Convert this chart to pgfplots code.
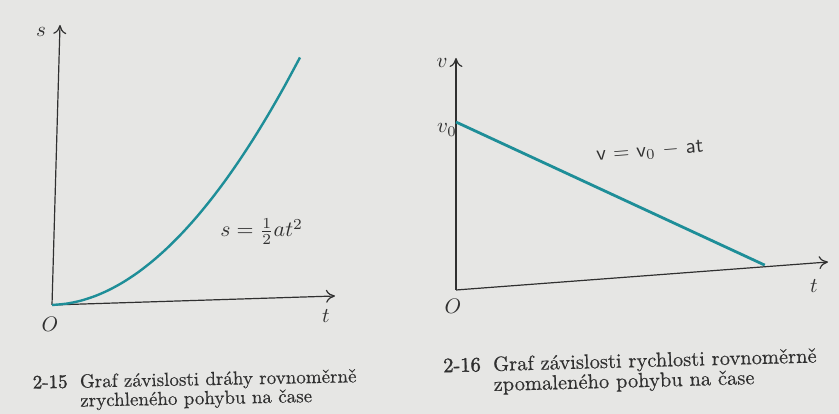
\documentclass[border=0pt]{standalone}
\usepackage{fontspec}
\usepackage{pgfplots}
\usepackage{pgfplotstable}
\pgfplotsset{compat=1.18}
\usetikzlibrary{arrows.meta}
\definecolor{paper}{HTML}{E6E6E4}
\definecolor{ink}{HTML}{303030}
\definecolor{curve}{HTML}{1E8E98}

% slightly heavier roman for the captions, heavier still for figure numbers
\newfontfamily\capfont{lmroman10-regular.otf}[FakeBold=0.35]
\newfontfamily\numfont{lmroman10-regular.otf}[FakeBold=1.6]
\newcommand\fignum[1]{{\numfont #1}}

% position (s) of a uniformly accelerated motion
\pgfplotstableread{
t     s
0     0
0.5   0.030
1     0.118
1.5   0.266
2     0.472
2.5   0.738
3     1.062
3.5   1.446
4     1.888
4.5   2.390
5     2.950
5.5   3.570
6     4.248
6.5   4.986
7     5.782
7.5   6.638
8     7.552
8.52  8.566
}\drahadata

% velocity (v) of a uniformly decelerated motion
\pgfplotstableread{
t     v
0     7.24
8.3   0.07
}\rychlostdata

\pgfplotsset{
  kinematika/.style={
    axis lines=left,
    ticks=none,
    clip=false,
    xmin=0, xmax=10, ymin=0, ymax=10,
    axis line style={ink, line width=1.2pt, -{To[length=9pt,width=13pt]}},
  },
}

\begin{document}
\begin{tikzpicture}[x=1pt,y=1pt]
\fill[paper] (0,0) rectangle (839,414);
\useasboundingbox (0,0) rectangle (839,414);

% 2-15: s(t)
\begin{axis}[kinematika,
  at={(52pt,109pt)}, anchor=origin,
  x={(28.3pt,0.9pt)}, y={(0.8pt,28pt)}]
  \addplot[curve, line width=2.4pt, smooth] table[x=t, y=s] {\drahadata};
\end{axis}

% 2-16: v(t)
\begin{axis}[kinematika,
  at={(456pt,124pt)}, anchor=origin,
  x={(37.2pt,2.8pt)}, y={(0pt,23.2pt)}]
  \addplot[curve, line width=2.8pt] table[x=t, y=v] {\rychlostdata};
\end{axis}

\begin{scope}[every node/.style={text=ink, scale=2.1}]
  \node at (41,382) {$s$};
  \node at (50,90) {$O$};
  \node at (326,98) {$t$};
  \node[anchor=base west, inner sep=0pt, scale=1.04] at (220,177) {$s=\frac{1}{2}at^2$};
  \node at (442,351) {$v$};
  \node at (447,284) {$v_0$};
  \node at (453,108) {$O$};
  \node at (814,128) {$t$};
  \node[rotate=4.5] at (650,262) {\sffamily v $=$ v$_0$ $-$ at};
\end{scope}

\begin{scope}[every node/.style={text=ink, anchor=base west, inner sep=0pt}]
  \node[rotate=1.1, scale=1.9] at (32.5,25.5) {\capfont\begin{tabular}[t]{@{}l@{\hspace{6.5pt}}l@{}}\fignum{2-15} & Graf závislosti dráhy rovnoměrně\\[-2pt] & zrychleného pohybu na čase\end{tabular}};
  \node[rotate=1.5, scale=2.05] at (443,41.7) {\capfont\begin{tabular}[t]{@{}l@{\hspace{6pt}}l@{}}\fignum{2-16} & Graf závislosti rychlosti rovnoměrně\\[-2.25pt] & zpomaleného pohybu na čase\end{tabular}};
\end{scope}
\end{tikzpicture}
\end{document}
